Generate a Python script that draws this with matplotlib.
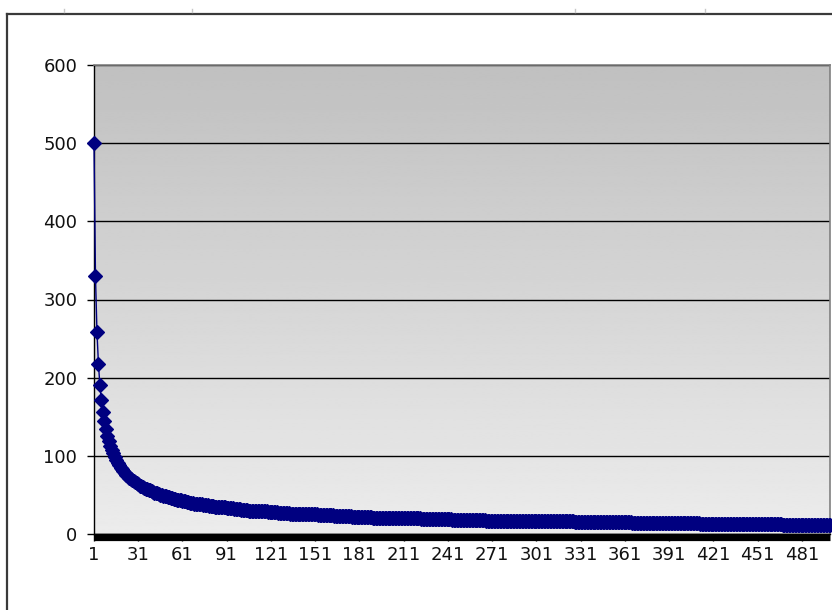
import numpy as np
import matplotlib.pyplot as plt
from matplotlib.lines import Line2D

# values, categories 1..74 one by one
head_values = [500, 330, 259, 218, 190, 171, 156, 144, 134, 126,
               119, 113, 107, 103, 98, 95, 91, 88, 85, 83,
               80, 78, 76, 74, 72, 71, 69, 68, 66, 65,
               64, 62, 61, 60, 59, 58, 57, 56, 56, 55,
               54, 53, 52, 52, 51, 50, 50, 49, 48, 48,
               47, 47, 46, 46, 45, 45, 44, 44, 43, 43,
               42, 42, 42, 41, 41, 40, 40, 40, 39, 39,
               39, 38, 38, 38]
# the long flat tail (categories 75..500): level and how many points sit on it
plateau_values = [37, 36, 35, 34, 33, 32, 31, 30, 29, 28, 27, 26, 25,
                  24, 23, 22, 21, 20, 19, 18, 17, 16, 15, 14, 13, 12]
plateau_lengths = [4, 4, 4, 4, 5, 5, 5, 6, 7, 7, 8, 9, 10,
                   11, 12, 14, 16, 17, 21, 23, 28, 32, 39, 46, 56, 33]

values = np.concatenate([head_values, np.repeat(plateau_values, plateau_lengths)])
categories = np.arange(1, len(values) + 1)
x_labels = list(range(1, 482, 30))
y_labels = [0, 100, 200, 300, 400, 500, 600]

plt.rcParams['font.family'] = ['DejaVu Sans']

fig = plt.figure(figsize=(8.32, 6.10), dpi=100)
fig.patch.set_facecolor('white')
ax = fig.add_axes([94 / 832, 76 / 610, 736 / 832, 469 / 610])

# grey gradient of the plot area, dark at the top
grad = np.linspace(0.753, 0.925, 256).reshape(-1, 1)
ax.imshow(grad, extent=[1, len(values), 0, 600], aspect='auto', cmap='gray',
          vmin=0, vmax=1, origin='upper', zorder=0, interpolation='bilinear')

ax.plot(categories, values, color='#000080', lw=1.0, marker='D', markersize=7.6,
        markeredgewidth=0.9, markeredgecolor='#000080', zorder=3, clip_on=False)

ax.set_xlim(1, len(values))
ax.set_ylim(0, 600)
ax.set_yticks(y_labels)
ax.set_xticks(x_labels)
ax.set_xticklabels([str(v) for v in x_labels])

ax.yaxis.grid(True, color='black', lw=1.0)
ax.xaxis.grid(False)

ax.tick_params(axis='y', direction='out', length=5, width=1.0, color='black',
               labelsize=13, pad=7, labelcolor='#111111')
ax.tick_params(axis='x', direction='out', length=5, width=1.0,
               color='black', labelsize=13, pad=4, labelcolor='#111111')

for side in ['left', 'bottom']:
    ax.spines[side].set_color('black')
    ax.spines[side].set_linewidth(1.0)
for side in ['top', 'right']:
    ax.spines[side].set_color('#808080')
    ax.spines[side].set_linewidth(1.2)

# the tick marks of all 500 categories merge into one solid black strip
fig.add_artist(Line2D([93.5 / 832, 830 / 832], [1 - 537 / 610, 1 - 537 / 610],
                      color='black', lw=5.2, solid_capstyle='butt'))

# outer chart frame, cut by the screenshot at right and bottom
fig.add_artist(Line2D([7.5 / 832, 1.0], [1 - 13.5 / 610, 1 - 13.5 / 610],
                      color='#3a3a3a', lw=1.6))
fig.add_artist(Line2D([7.5 / 832, 7.5 / 832], [0.0, 1 - 13.5 / 610],
                      color='#3a3a3a', lw=1.6))
# little sheet grid marks above the frame
for px in [64, 192, 575, 705]:
    fig.add_artist(Line2D([px / 832, px / 832], [1 - 9 / 610, 1 - 12 / 610],
                          color='#c8c8c8', lw=1.0))

plt.savefig('out.png', dpi=100)
